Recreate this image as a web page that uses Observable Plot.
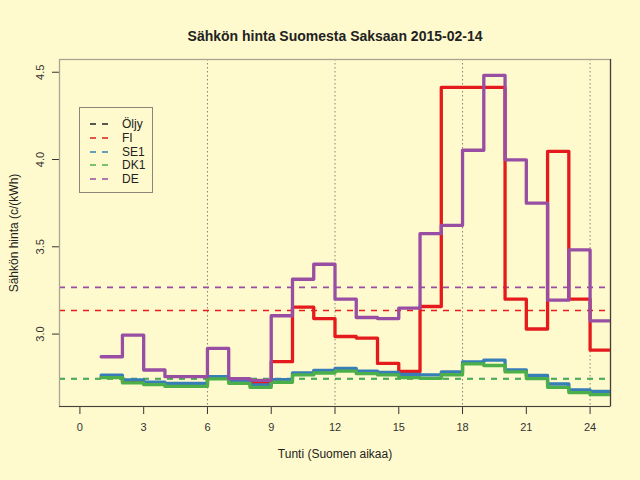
<!DOCTYPE html>
<html><head><meta charset="utf-8">
<script src="https://cdn.jsdelivr.net/npm/d3@7"></script>
<script src="https://cdn.jsdelivr.net/npm/@observablehq/plot@0.6"></script>
<style>
html,body{margin:0;padding:0;background:#fffacd;}
#wrap{position:relative;width:640px;height:480px;font-family:"Liberation Sans",Arial,Helvetica,sans-serif;}
#legend{position:absolute;left:79px;top:107px;width:74px;height:86px;border:1px solid #8a8578;box-sizing:border-box;}
.row{position:absolute;left:0;height:14px;font-size:12px;color:#222;line-height:14px;}
.row svg{position:absolute;left:10px;top:0;}
.row span{position:absolute;left:42px;top:0;white-space:nowrap;}
</style></head>
<body><div id="wrap"><div id="legend"></div></div>
<script>
// --- data ---
const hours = [1,2,3,4,5,6,7,8,9,10,11,12,13,14,15,16,17,18,19,20,21,22,23,24];
const seriesNames = ["Öljy","FI","SE1","DK1","DE"];
const seriesColors = ["#222222","#e41a1c","#377eb8","#4daf4a","#984ea3"];
const FI  = [2.755,2.729,2.718,2.710,2.710,2.749,2.726,2.724,2.842,3.154,3.089,2.986,2.977,2.832,2.786,3.158,4.413,4.413,4.413,3.200,3.029,4.047,3.200,2.908];
const SE1 = [2.765,2.737,2.724,2.718,2.718,2.756,2.735,2.709,2.739,2.777,2.792,2.803,2.788,2.781,2.769,2.766,2.783,2.840,2.851,2.794,2.763,2.714,2.680,2.672];
const DK1 = [2.750,2.720,2.710,2.700,2.700,2.743,2.718,2.695,2.724,2.766,2.777,2.788,2.773,2.766,2.750,2.746,2.767,2.829,2.820,2.783,2.745,2.695,2.665,2.653];
const DE  = [2.870,2.994,2.794,2.756,2.756,2.918,2.745,2.735,3.105,3.314,3.400,3.200,3.095,3.089,3.149,3.575,3.623,4.053,4.482,3.998,3.750,3.194,3.482,3.076];
const meanNames = ["SE1","DK1","FI","DE"];
const meanValues = [2.745,2.743,3.135,3.268];
const xTicks = [0,3,6,9,12,15,18,21,24];
const gridHours = [6,12,18,24];
const yTicks = [3.0,3.5,4.0,4.5];
const xDomain = [-0.96,24.96];
const yDomain = [2.585,4.573];

const title = "Sähkön hinta Suomesta Saksaan 2015-02-14";
const xLabel = "Tunti (Suomen aikaa)";
const yLabel = "Sähkön hinta (c/(kWh)";

const colorOf = n => seriesColors[seriesNames.indexOf(n)];
// step rows: each hour's value held until the next hour
function stepRows(vals){
  const rows = hours.map((h,i)=>({hour:h, value:vals[i]}));
  rows.push({hour: hours[hours.length-1]+1, value: vals[vals.length-1]});
  return rows;
}
const lineSeries = [["FI",FI],["SE1",SE1],["DK1",DK1],["DE",DE]];
const meanRows = meanNames.map((n,i)=>({series:n, value:meanValues[i]}));

const font = '"Liberation Sans",Arial,Helvetica,sans-serif';
const chart = Plot.plot({
  width:640, height:480,
  marginLeft:59, marginRight:30, marginTop:59, marginBottom:74,
  style:{background:"transparent", fontFamily:font, fontSize:"11px", color:"#333"},
  x:{domain:xDomain, ticks:xTicks, label:null, tickSize:8, tickPadding:9},
  y:{domain:yDomain, ticks:yTicks, label:null, tickSize:7, tickFormat:()=>""},
  marks:[
    Plot.ruleX(gridHours, {x:d=>d, stroke:"#8a8578", strokeWidth:1, strokeDasharray:"1.5,2.5"}),
    Plot.ruleY(meanRows, {y:"value", stroke:d=>colorOf(d.series), strokeWidth:1.7, strokeDasharray:"6,6"}),
    ...lineSeries.map(([n,vals]) => Plot.line(stepRows(vals), {
      x:"hour", y:"value", curve:"step-after", stroke:colorOf(n), strokeWidth:3.3, clip:true
    })),
    Plot.frame({stroke:"#aaa592", strokeWidth:1.3}),
    Plot.ruleY([yDomain[0]], {stroke:"#444038", strokeWidth:1.2}),
    Plot.ruleX([xDomain[1]], {stroke:"#444038", strokeWidth:1.2}),
    Plot.text(yTicks, {y:d=>d, frameAnchor:"left", dx:-19, rotate:-90, textAnchor:"middle", text:d=>d.toFixed(1), fill:"#333", fontSize:11}),
    Plot.text([title], {frameAnchor:"top", dy:-28, text:d=>d, fontWeight:"bold", fontSize:14, fill:"#222"}),
    Plot.text([xLabel], {frameAnchor:"bottom", dy:51, text:d=>d, fontSize:12, fill:"#222"}),
    Plot.text([yLabel], {frameAnchor:"left", dx:-45, rotate:-90, textAnchor:"middle", text:d=>d, fontSize:12, fill:"#222"})
  ]
});
document.getElementById("wrap").prepend(chart);
chart.style.position="absolute"; chart.style.left="0"; chart.style.top="0";

// legend
const legend = document.getElementById("legend");
const rowTops = [9,23,37,50,64];
seriesNames.forEach((n,i)=>{
  const r = document.createElement("div");
  r.className="row"; r.style.top = rowTops[i]+"px";
  r.innerHTML = `<svg width="20" height="14"><line x1="0" x2="20" y1="7" y2="7" stroke="${seriesColors[i]}" stroke-width="1.7" stroke-dasharray="6,6"/></svg><span>${n}</span>`;
  legend.appendChild(r);
});
</script></body></html>
